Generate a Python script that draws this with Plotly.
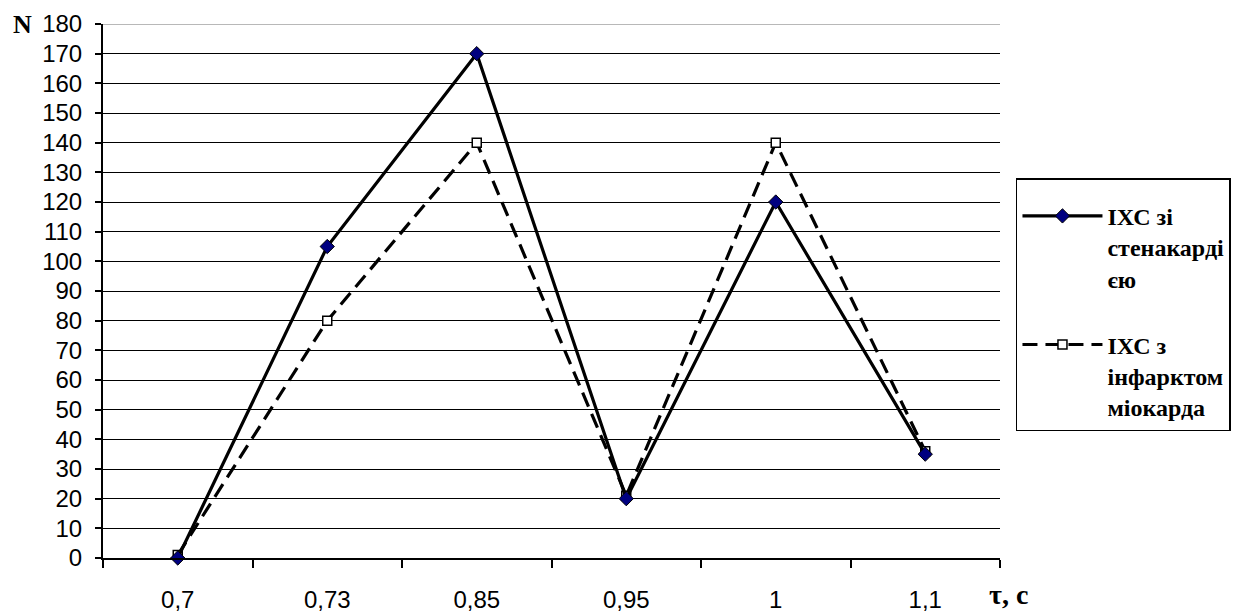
import plotly.graph_objects as go

categories = ["0,7", "0,73", "0,85", "0,95", "1", "1,1"]
angina_values = [0, 105, 170, 20, 120, 35]
infarction_values = [1, 80, 140, 21, 140, 36]
y_ticks = list(range(0, 181, 10))
Y_MAX = 180

angina_name = "<b>ІХС зі<br>стенакарді<br>єю</b>"
infarction_name = "<b>ІХС з<br>інфарктом<br>міокарда</b>"

SERIF = "Liberation Serif, Times New Roman, serif"

fig = go.Figure()

fig.add_trace(go.Scatter(
    x=categories, y=infarction_values, name=infarction_name,
    mode="lines+markers", legendrank=2, legendgroup="b",
    line=dict(color="black", width=3.2, dash="15px,8px"),
    marker=dict(symbol="square", size=9, color="white",
                line=dict(color="black", width=1.5)),
    cliponaxis=False,
))
fig.add_trace(go.Scatter(
    x=categories, y=angina_values, name=angina_name,
    mode="lines+markers", legendrank=1, legendgroup="a",
    line=dict(color="black", width=3.2),
    marker=dict(symbol="diamond", size=11, color="#000080",
                line=dict(color="black", width=1)),
    cliponaxis=False,
))

fig.add_shape(type="line", xref="paper", x0=0, x1=1, yref="y", y0=Y_MAX, y1=Y_MAX,
              line=dict(color="#a0a0a0", width=1.5), layer="between")

fig.update_layout(
    width=1235, height=612,
    margin=dict(l=103, r=235, t=24, b=54, autoexpand=False),
    paper_bgcolor="white", plot_bgcolor="white",
    font=dict(family="Liberation Sans", size=24, color="black"),
    showlegend=True,
    legend=dict(
        x=1.0178, xanchor="left", y=0.7116, yanchor="top",
        bordercolor="black", borderwidth=1.5, bgcolor="white",
        font=dict(family=SERIF, size=24, color="black"),
        valign="top", tracegroupgap=32, itemwidth=80,
        title=dict(text=" ", font=dict(family=SERIF, size=11)),
    ),
    xaxis=dict(
        type="category", range=[-0.5, 5.5], tickson="boundaries",
        showline=True, linecolor="black", linewidth=2,
        ticks="outside", ticklen=8, tickwidth=1.5, tickcolor="black",
        showgrid=False, zeroline=False, ticklabelstandoff=19, automargin=False,
    ),
    yaxis=dict(
        range=[0, Y_MAX], tickvals=y_ticks,
        showline=True, linecolor="black", linewidth=2,
        ticks="outside", ticklen=6, tickwidth=1.5, tickcolor="black",
        showgrid=True, gridcolor="black", gridwidth=1.3,
        zeroline=False, ticklabelstandoff=8, automargin=False,
    ),
    annotations=[
        dict(text="<b>N</b>", xref="paper", yref="paper", x=-0.0903, y=1.0,
             xanchor="center", yanchor="middle", showarrow=False,
             font=dict(family=SERIF, size=26, color="black")),
        dict(text="<b>τ, с</b>", xref="paper", yref="paper", x=1.0095, y=-0.0985,
             xanchor="center", yanchor="bottom", showarrow=False, borderpad=0,
             font=dict(family=SERIF, size=28, color="black")),
    ],
)

fig.write_html("out.html")
